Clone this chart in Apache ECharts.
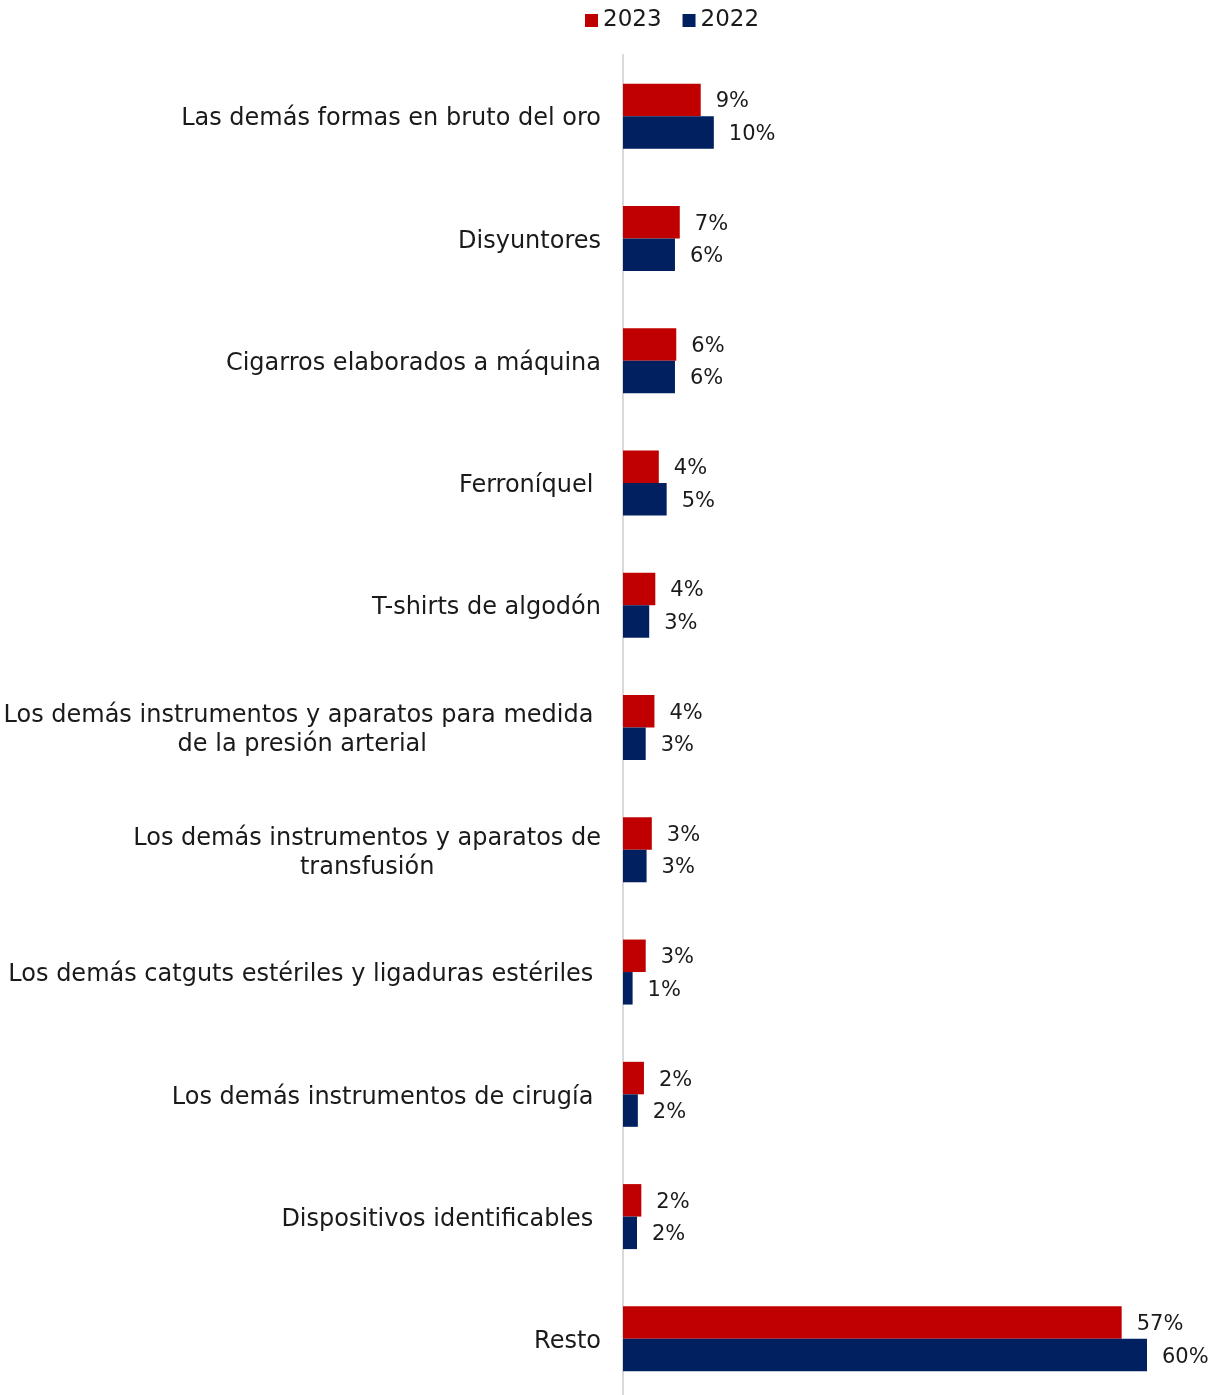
<!DOCTYPE html>
<html>
<head>
<meta charset="utf-8">
<script src="https://cdn.jsdelivr.net/npm/echarts@6/dist/echarts.min.js"></script>
<style>
html,body{margin:0;padding:0;background:#fff;overflow:hidden;}
#chart{width:1219px;height:1401px;}
</style>
</head>
<body>
<div id="chart"></div>
<script>
const categories = [
  "Las demás formas en bruto del oro",
  "Disyuntores",
  "Cigarros elaborados a máquina",
  "Ferroníquel ",
  "T-shirts de algodón",
  "Los demás instrumentos y aparatos para medida \nde la presión arterial",
  "Los demás instrumentos y aparatos de\ntransfusión",
  "Los demás catguts estériles y ligaduras estériles ",
  "Los demás instrumentos de cirugía ",
  "Dispositivos identificables ",
  "Resto"
];
const values2023 = [8.9, 6.5, 6.1, 4.1, 3.7, 3.6, 3.3, 2.6, 2.4, 2.1, 57.1];
const values2022 = [10.4, 5.95, 5.95, 5.0, 3.0, 2.6, 2.7, 1.1, 1.7, 1.6, 60.0];
const seriesNames = ["2023", "2022"];

const FONT = "DejaVu Sans";
const chart = echarts.init(document.getElementById('chart'));
const labelOpt = {
  show: true,
  position: 'right',
  distance: 15,
  offset: [0, 2],
  color: '#1a1a1a',
  fontFamily: FONT,
  fontSize: 21,
  formatter: p => Math.round(p.value) + '%'
};
chart.setOption({
  animation: false,
  backgroundColor: '#ffffff',
  legend: {
    top: 9,
    left: 585,
    padding: 0,
    itemWidth: 13,
    itemHeight: 13,
    itemGap: 21,
    icon: 'rect',
    textStyle: { fontFamily: FONT, fontSize: 23, color: '#1a1a1a', padding: [3, 0, 0, 0] },
    data: seriesNames
  },
  grid: { left: 623, right: 72, top: 55, height: 1345, containLabel: false },
  xAxis: {
    type: 'value',
    min: 0,
    max: 60,
    show: false
  },
  yAxis: {
    type: 'category',
    inverse: true,
    data: categories,
    axisTick: { show: false },
    axisLine: { show: true, lineStyle: { color: '#d9d9d9', width: 2 } },
    axisLabel: {
      margin: 22,
      color: '#1a1a1a',
      fontFamily: FONT,
      fontSize: 24,
      lineHeight: 29,
      padding: [6, 0, 0, 0],
      formatter: v => v.split('\n').map(l => '{c|' + l + '}').join('\n'),
      rich: { c: { align: 'center', fontFamily: FONT, fontSize: 24, lineHeight: 29, color: '#1a1a1a' } }
    }
  },
  series: [
    { name: seriesNames[0], type: 'bar', data: values2023, itemStyle: { color: '#C00000' },
      barWidth: 32.5, barGap: '0%', label: labelOpt },
    { name: seriesNames[1], type: 'bar', data: values2022, itemStyle: { color: '#002060' },
      barWidth: 32.5, barGap: '0%', label: labelOpt }
  ]
});
</script>
</body>
</html>
